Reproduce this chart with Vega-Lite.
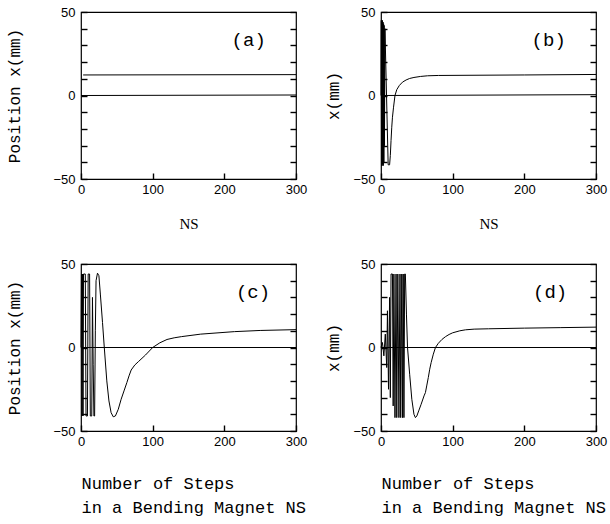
{
  "$schema": "https://vega.github.io/schema/vega-lite/v6.json",
  "background": "white",
  "padding": {"left": 6, "top": 5, "right": 2, "bottom": 2},
  "config": {
    "view": {"stroke": "black", "strokeWidth": 1.2},
    "axis": {
      "grid": false,
      "ticks": true,
      "zindex": 1,
      "domainOpacity": 0,
      "labelFont": "Liberation Sans",
      "labelFontSize": 13,
      "labelColor": "black",
      "labelFlush": false,
      "tickColor": "black",
      "tickSize": 6,
      "tickWidth": 1.4,
      "titleColor": "black",
      "titleFontWeight": "normal"
    },
    "text": {"font": "Liberation Mono", "fontSize": 19, "color": "black"}
  },
  "datasets": {
    "traj": [
      {"p": "a", "s": "z", "ns": 0, "x": 0}, {"p": "a", "s": "z", "ns": 300, "x": 0.3},
      {"p": "a", "s": "t", "ns": 3, "x": 12.3}, {"p": "a", "s": "t", "ns": 300, "x": 12.5},

      {"p": "b", "s": "z", "ns": 0, "x": 0}, {"p": "b", "s": "z", "ns": 300, "x": 0.5},
      {"p": "b", "s": "t", "ns": 0, "x": 0}, {"p": "b", "s": "t", "ns": 0.4, "x": 45}, {"p": "b", "s": "t", "ns": 0.8, "x": -42},
      {"p": "b", "s": "t", "ns": 1.2, "x": 44}, {"p": "b", "s": "t", "ns": 1.6, "x": -42}, {"p": "b", "s": "t", "ns": 2.0, "x": 45},
      {"p": "b", "s": "t", "ns": 2.4, "x": -41}, {"p": "b", "s": "t", "ns": 2.8, "x": 44}, {"p": "b", "s": "t", "ns": 3.2, "x": -42},
      {"p": "b", "s": "t", "ns": 3.6, "x": 43}, {"p": "b", "s": "t", "ns": 4.0, "x": -40}, {"p": "b", "s": "t", "ns": 4.4, "x": 42},
      {"p": "b", "s": "t", "ns": 4.8, "x": -30}, {"p": "b", "s": "t", "ns": 5.5, "x": 40}, {"p": "b", "s": "t", "ns": 10, "x": -41.5},
      {"p": "b", "s": "t", "ns": 12, "x": -41.5}, {"p": "b", "s": "t", "ns": 13, "x": -36}, {"p": "b", "s": "t", "ns": 14, "x": -27},
      {"p": "b", "s": "t", "ns": 15, "x": -19}, {"p": "b", "s": "t", "ns": 16, "x": -13}, {"p": "b", "s": "t", "ns": 17.5, "x": -7},
      {"p": "b", "s": "t", "ns": 19.5, "x": 0}, {"p": "b", "s": "t", "ns": 22, "x": 3.5}, {"p": "b", "s": "t", "ns": 25.6, "x": 6},
      {"p": "b", "s": "t", "ns": 30, "x": 8}, {"p": "b", "s": "t", "ns": 35, "x": 9.3}, {"p": "b", "s": "t", "ns": 40, "x": 10.2},
      {"p": "b", "s": "t", "ns": 46, "x": 10.8}, {"p": "b", "s": "t", "ns": 55, "x": 11.4}, {"p": "b", "s": "t", "ns": 65, "x": 11.8},
      {"p": "b", "s": "t", "ns": 80, "x": 12}, {"p": "b", "s": "t", "ns": 120, "x": 12.1}, {"p": "b", "s": "t", "ns": 200, "x": 12.3},
      {"p": "b", "s": "t", "ns": 300, "x": 12.6},

      {"p": "c", "s": "z", "ns": 0, "x": 0}, {"p": "c", "s": "z", "ns": 300, "x": 0},
      {"p": "c", "s": "t", "ns": 0, "x": 0}, {"p": "c", "s": "t", "ns": 0.7, "x": 44}, {"p": "c", "s": "t", "ns": 1.4, "x": -41},
      {"p": "c", "s": "t", "ns": 2.1, "x": 44}, {"p": "c", "s": "t", "ns": 2.8, "x": -41}, {"p": "c", "s": "t", "ns": 3.5, "x": 44},
      {"p": "c", "s": "t", "ns": 6, "x": 44}, {"p": "c", "s": "t", "ns": 7, "x": -41}, {"p": "c", "s": "t", "ns": 9, "x": -41},
      {"p": "c", "s": "t", "ns": 10, "x": 44}, {"p": "c", "s": "t", "ns": 12, "x": 44}, {"p": "c", "s": "t", "ns": 13, "x": -41},
      {"p": "c", "s": "t", "ns": 15, "x": -41}, {"p": "c", "s": "t", "ns": 16, "x": 30}, {"p": "c", "s": "t", "ns": 17, "x": -10},
      {"p": "c", "s": "t", "ns": 18, "x": -41}, {"p": "c", "s": "t", "ns": 19, "x": -41}, {"p": "c", "s": "t", "ns": 20, "x": 10},
      {"p": "c", "s": "t", "ns": 21, "x": 40}, {"p": "c", "s": "t", "ns": 23, "x": 44.5}, {"p": "c", "s": "t", "ns": 25, "x": 43},
      {"p": "c", "s": "t", "ns": 27, "x": 32}, {"p": "c", "s": "t", "ns": 30, "x": 15}, {"p": "c", "s": "t", "ns": 32.5, "x": 0},
      {"p": "c", "s": "t", "ns": 36, "x": -20}, {"p": "c", "s": "t", "ns": 39, "x": -32}, {"p": "c", "s": "t", "ns": 42, "x": -39},
      {"p": "c", "s": "t", "ns": 45, "x": -41.5}, {"p": "c", "s": "t", "ns": 48, "x": -41}, {"p": "c", "s": "t", "ns": 52, "x": -37},
      {"p": "c", "s": "t", "ns": 56, "x": -31}, {"p": "c", "s": "t", "ns": 60, "x": -26}, {"p": "c", "s": "t", "ns": 64, "x": -21},
      {"p": "c", "s": "t", "ns": 67, "x": -17}, {"p": "c", "s": "t", "ns": 70, "x": -13.5}, {"p": "c", "s": "t", "ns": 75, "x": -10.5},
      {"p": "c", "s": "t", "ns": 80, "x": -8.5}, {"p": "c", "s": "t", "ns": 90, "x": -4.5}, {"p": "c", "s": "t", "ns": 100, "x": 0},
      {"p": "c", "s": "t", "ns": 110, "x": 2.8}, {"p": "c", "s": "t", "ns": 120, "x": 4.8}, {"p": "c", "s": "t", "ns": 130, "x": 5.8},
      {"p": "c", "s": "t", "ns": 140, "x": 6.5}, {"p": "c", "s": "t", "ns": 167, "x": 8}, {"p": "c", "s": "t", "ns": 214, "x": 9.5},
      {"p": "c", "s": "t", "ns": 250, "x": 10.2}, {"p": "c", "s": "t", "ns": 300, "x": 10.7},

      {"p": "d", "s": "z", "ns": 0, "x": 0}, {"p": "d", "s": "z", "ns": 300, "x": 0},
      {"p": "d", "s": "t", "ns": 0, "x": 0}, {"p": "d", "s": "t", "ns": 2, "x": 3}, {"p": "d", "s": "t", "ns": 4, "x": -5},
      {"p": "d", "s": "t", "ns": 6, "x": 8}, {"p": "d", "s": "t", "ns": 8, "x": -12}, {"p": "d", "s": "t", "ns": 9, "x": 22},
      {"p": "d", "s": "t", "ns": 10.5, "x": -25}, {"p": "d", "s": "t", "ns": 12, "x": 30}, {"p": "d", "s": "t", "ns": 13, "x": -30},
      {"p": "d", "s": "t", "ns": 14, "x": 44}, {"p": "d", "s": "t", "ns": 16, "x": 44}, {"p": "d", "s": "t", "ns": 17, "x": -35},
      {"p": "d", "s": "t", "ns": 18, "x": 44}, {"p": "d", "s": "t", "ns": 19.5, "x": -42}, {"p": "d", "s": "t", "ns": 21, "x": 44},
      {"p": "d", "s": "t", "ns": 22, "x": -42}, {"p": "d", "s": "t", "ns": 23.5, "x": 44}, {"p": "d", "s": "t", "ns": 25, "x": -42},
      {"p": "d", "s": "t", "ns": 26.5, "x": 44}, {"p": "d", "s": "t", "ns": 27.5, "x": -42}, {"p": "d", "s": "t", "ns": 29, "x": 44},
      {"p": "d", "s": "t", "ns": 30, "x": -42}, {"p": "d", "s": "t", "ns": 31, "x": 44}, {"p": "d", "s": "t", "ns": 32, "x": -42},
      {"p": "d", "s": "t", "ns": 33, "x": 44}, {"p": "d", "s": "t", "ns": 34, "x": 44}, {"p": "d", "s": "t", "ns": 35.5, "x": 20},
      {"p": "d", "s": "t", "ns": 37, "x": 0}, {"p": "d", "s": "t", "ns": 40, "x": -16}, {"p": "d", "s": "t", "ns": 43, "x": -31},
      {"p": "d", "s": "t", "ns": 46, "x": -40}, {"p": "d", "s": "t", "ns": 48, "x": -42}, {"p": "d", "s": "t", "ns": 50, "x": -41},
      {"p": "d", "s": "t", "ns": 53, "x": -37.5}, {"p": "d", "s": "t", "ns": 56, "x": -34}, {"p": "d", "s": "t", "ns": 60, "x": -29},
      {"p": "d", "s": "t", "ns": 62, "x": -27}, {"p": "d", "s": "t", "ns": 64, "x": -22.5}, {"p": "d", "s": "t", "ns": 66, "x": -18},
      {"p": "d", "s": "t", "ns": 68, "x": -13}, {"p": "d", "s": "t", "ns": 70, "x": -9}, {"p": "d", "s": "t", "ns": 73, "x": -4},
      {"p": "d", "s": "t", "ns": 76, "x": 0}, {"p": "d", "s": "t", "ns": 80, "x": 2.5}, {"p": "d", "s": "t", "ns": 85, "x": 4.8},
      {"p": "d", "s": "t", "ns": 90, "x": 6.5}, {"p": "d", "s": "t", "ns": 95, "x": 7.8}, {"p": "d", "s": "t", "ns": 100, "x": 8.8},
      {"p": "d", "s": "t", "ns": 110, "x": 10}, {"p": "d", "s": "t", "ns": 118, "x": 10.6}, {"p": "d", "s": "t", "ns": 130, "x": 11},
      {"p": "d", "s": "t", "ns": 150, "x": 11.2}, {"p": "d", "s": "t", "ns": 200, "x": 11.6}, {"p": "d", "s": "t", "ns": 250, "x": 11.9},
      {"p": "d", "s": "t", "ns": 300, "x": 12.2}
    ]
  },
  "columns": 2,
  "spacing": {"row": 25, "column": 17},
  "concat": [
    {
      "width": 215, "height": 167,
      "resolve": {"axis": {"y": "independent"}},
      "layer": [
        {
          "data": {"name": "traj"},
          "transform": [{"filter": "datum.p === 'a'"}],
          "mark": {"type": "line", "color": "black", "strokeWidth": 1},
          "encoding": {
            "x": {"field": "ns", "type": "quantitative", "scale": {"domain": [0, 300], "nice": false},
                  "axis": {"values": [0, 50, 100, 150, 200, 250, 300], "labelExpr": "datum.value % 100 === 0 ? datum.label : ''", "offset": -6, "labelPadding": 4,
                           "title": "NS", "titleFont": "Liberation Serif", "titleFontSize": 15, "titlePadding": 20}},
            "y": {"field": "x", "type": "quantitative", "scale": {"domain": [-50, 50], "nice": false},
                  "axis": {"values": [-50, -40, -30, -20, -10, 0, 10, 20, 30, 40, 50], "labelExpr": "datum.value % 50 === 0 ? datum.label : ''", "offset": -6, "labelPadding": 6,
                           "title": "Position x(mm)", "titleFont": "Liberation Mono", "titleFontSize": 16, "titlePadding": 30}},
            "detail": {"field": "s"}
          }
        },
        {
          "data": {"values": [{"label": "(a)"}]},
          "mark": {"type": "text"},
          "encoding": {
            "text": {"field": "label"},
            "x": {"datum": 234, "type": "quantitative"},
            "y": {"datum": 33, "type": "quantitative", "axis": {"orient": "right", "labels": false, "title": null, "offset": -6, "values": [-50, -40, -30, -20, -10, 0, 10, 20, 30, 40, 50]}}
          }
        }
      ]
    },
    {
      "width": 215, "height": 167,
      "resolve": {"axis": {"y": "independent"}},
      "layer": [
        {
          "data": {"name": "traj"},
          "transform": [{"filter": "datum.p === 'b'"}],
          "mark": {"type": "line", "color": "black", "strokeWidth": 1},
          "encoding": {
            "x": {"field": "ns", "type": "quantitative", "scale": {"domain": [0, 300], "nice": false},
                  "axis": {"values": [0, 50, 100, 150, 200, 250, 300], "labelExpr": "datum.value % 100 === 0 ? datum.label : ''", "offset": -6, "labelPadding": 4,
                           "title": "NS", "titleFont": "Liberation Serif", "titleFontSize": 15, "titlePadding": 20}},
            "y": {"field": "x", "type": "quantitative", "scale": {"domain": [-50, 50], "nice": false},
                  "axis": {"values": [-50, -40, -30, -20, -10, 0, 10, 20, 30, 40, 50], "labelExpr": "datum.value % 50 === 0 ? datum.label : ''", "offset": -6, "labelPadding": 6,
                           "title": "x(mm)", "titleFont": "Liberation Mono", "titleFontSize": 16, "titlePadding": 11}},
            "detail": {"field": "s"}
          }
        },
        {
          "data": {"values": [{"label": "(b)"}]},
          "mark": {"type": "text"},
          "encoding": {
            "text": {"field": "label"},
            "x": {"datum": 234, "type": "quantitative"},
            "y": {"datum": 33, "type": "quantitative", "axis": {"orient": "right", "labels": false, "title": null, "offset": -6, "values": [-50, -40, -30, -20, -10, 0, 10, 20, 30, 40, 50]}}
          }
        }
      ]
    },
    {
      "width": 215, "height": 167,
      "resolve": {"axis": {"y": "independent"}},
      "layer": [
        {
          "data": {"name": "traj"},
          "transform": [{"filter": "datum.p === 'c'"}],
          "mark": {"type": "line", "color": "black", "strokeWidth": 1},
          "encoding": {
            "x": {"field": "ns", "type": "quantitative", "scale": {"domain": [0, 300], "nice": false},
                  "axis": {"values": [0, 50, 100, 150, 200, 250, 300], "labelExpr": "datum.value % 100 === 0 ? datum.label : ''", "offset": -6, "labelPadding": 4,
                           "title": ["Number of Steps", "in a Bending Magnet NS"], "titleFont": "Liberation Mono", "titleFontSize": 17,
                           "titleAnchor": "start", "titleLineHeight": 24, "titlePadding": 27}},
            "y": {"field": "x", "type": "quantitative", "scale": {"domain": [-50, 50], "nice": false},
                  "axis": {"values": [-50, -40, -30, -20, -10, 0, 10, 20, 30, 40, 50], "labelExpr": "datum.value % 50 === 0 ? datum.label : ''", "offset": -6, "labelPadding": 6,
                           "title": "Position x(mm)", "titleFont": "Liberation Mono", "titleFontSize": 16, "titlePadding": 30}},
            "detail": {"field": "s"}
          }
        },
        {
          "data": {"values": [{"label": "(c)"}]},
          "mark": {"type": "text"},
          "encoding": {
            "text": {"field": "label"},
            "x": {"datum": 240, "type": "quantitative"},
            "y": {"datum": 33, "type": "quantitative", "axis": {"orient": "right", "labels": false, "title": null, "offset": -6, "values": [-50, -40, -30, -20, -10, 0, 10, 20, 30, 40, 50]}}
          }
        }
      ]
    },
    {
      "width": 215, "height": 167,
      "resolve": {"axis": {"y": "independent"}},
      "layer": [
        {
          "data": {"name": "traj"},
          "transform": [{"filter": "datum.p === 'd'"}],
          "mark": {"type": "line", "color": "black", "strokeWidth": 1},
          "encoding": {
            "x": {"field": "ns", "type": "quantitative", "scale": {"domain": [0, 300], "nice": false},
                  "axis": {"values": [0, 50, 100, 150, 200, 250, 300], "labelExpr": "datum.value % 100 === 0 ? datum.label : ''", "offset": -6, "labelPadding": 4,
                           "title": ["Number of Steps", "in a Bending Magnet NS"], "titleFont": "Liberation Mono", "titleFontSize": 17,
                           "titleAnchor": "start", "titleLineHeight": 24, "titlePadding": 27}},
            "y": {"field": "x", "type": "quantitative", "scale": {"domain": [-50, 50], "nice": false},
                  "axis": {"values": [-50, -40, -30, -20, -10, 0, 10, 20, 30, 40, 50], "labelExpr": "datum.value % 50 === 0 ? datum.label : ''", "offset": -6, "labelPadding": 6,
                           "title": "x(mm)", "titleFont": "Liberation Mono", "titleFontSize": 16, "titlePadding": 11}},
            "detail": {"field": "s"}
          }
        },
        {
          "data": {"values": [{"label": "(d)"}]},
          "mark": {"type": "text"},
          "encoding": {
            "text": {"field": "label"},
            "x": {"datum": 236, "type": "quantitative"},
            "y": {"datum": 33, "type": "quantitative", "axis": {"orient": "right", "labels": false, "title": null, "offset": -6, "values": [-50, -40, -30, -20, -10, 0, 10, 20, 30, 40, 50]}}
          }
        }
      ]
    }
  ]
}
